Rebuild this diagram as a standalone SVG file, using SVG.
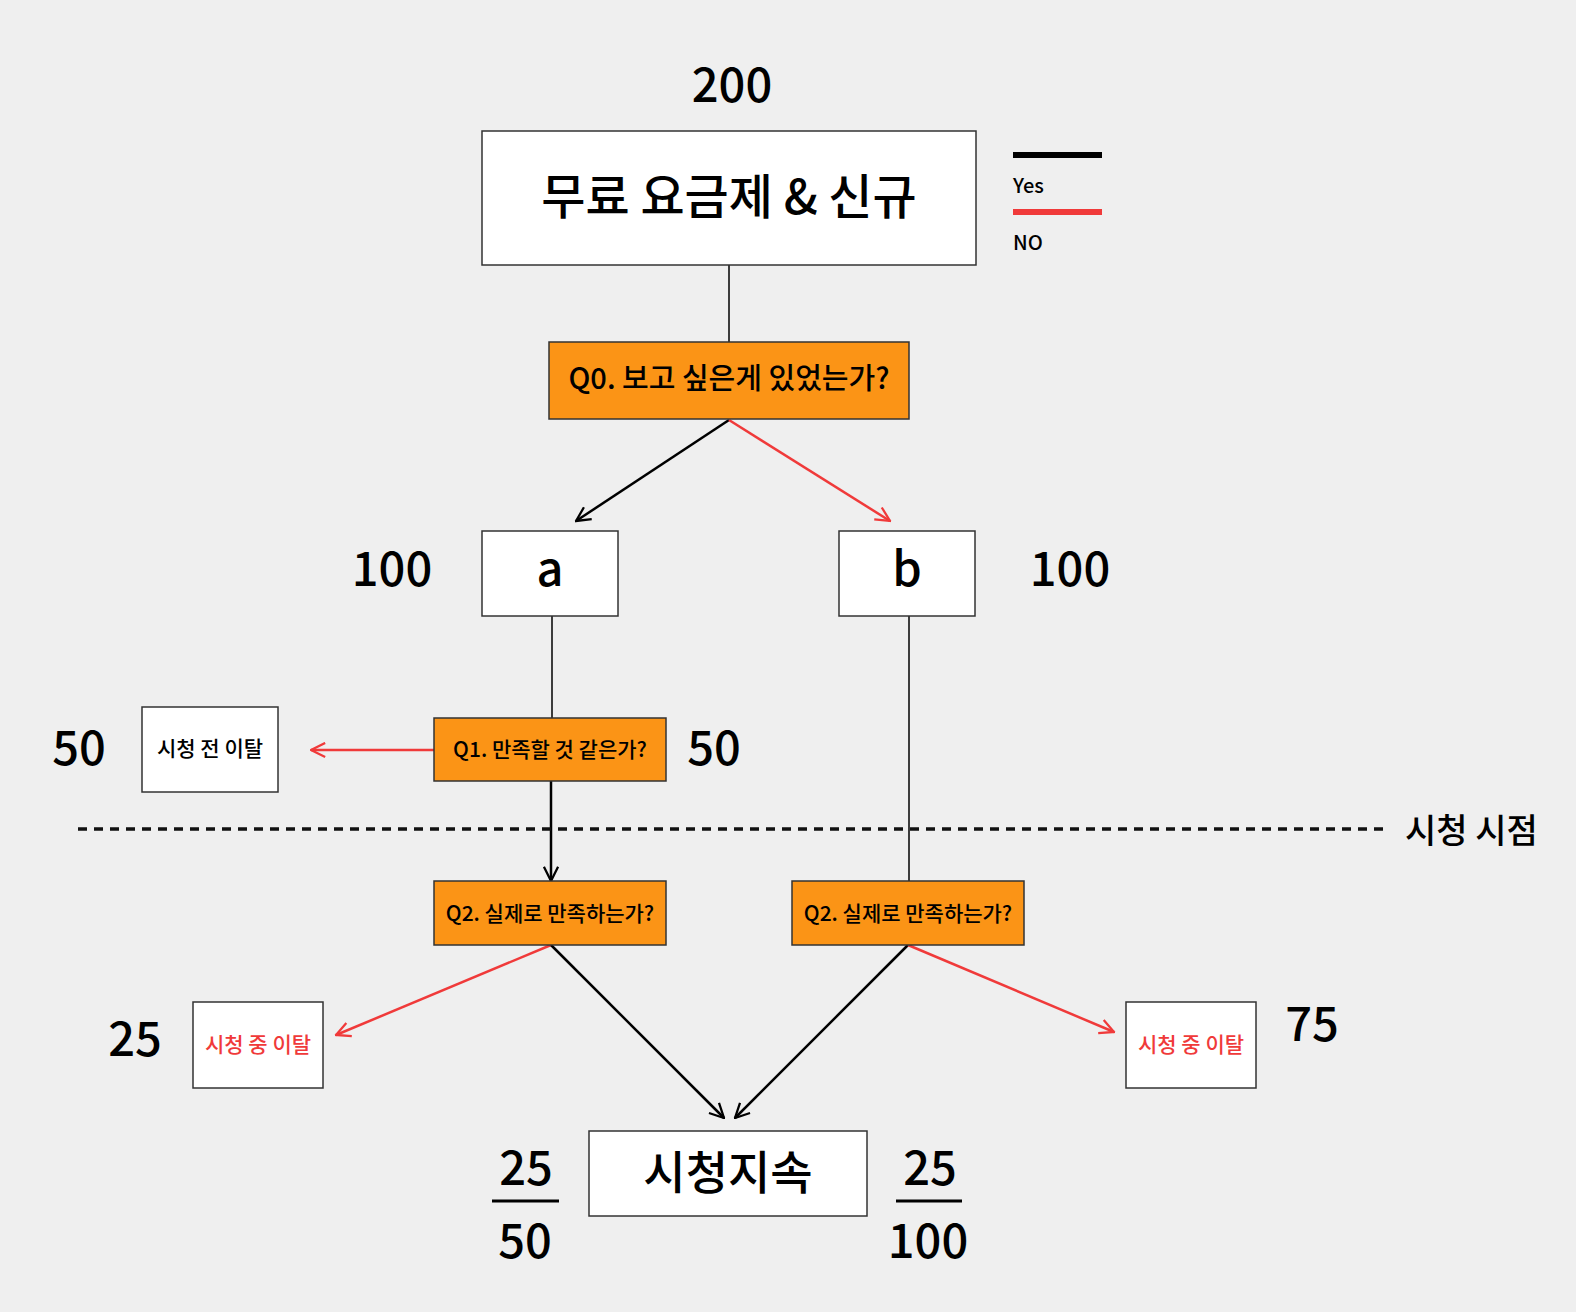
<svg xmlns="http://www.w3.org/2000/svg" width="1576" height="1312" viewBox="0 0 1576 1312">
<defs>
<style>
text{font-family:"Noto Sans CJK KR","Noto Sans",sans-serif;fill:#000;font-weight:500;}
.box{fill:#fff;stroke:#333;stroke-width:1.5;}
.q{fill:#FB9416;stroke:#333;stroke-width:1.5;}
.num{font-size:47px;text-anchor:middle;}
.mid{text-anchor:middle;}
.blk{stroke:#000;stroke-width:2.5;fill:none;}
.red{stroke:#F03A3A;stroke-width:2.5;fill:none;}
.thin{stroke:#000;stroke-width:1.5;fill:none;}
</style>
<marker id="ab" viewBox="0 0 12 12" refX="11" refY="6" markerWidth="17" markerHeight="17" markerUnits="userSpaceOnUse" orient="auto"><path d="M1,1 L11,6 L1,11" fill="none" stroke="#000" stroke-width="1.6"/></marker>
<marker id="ar" viewBox="0 0 12 12" refX="11" refY="6" markerWidth="17" markerHeight="17" markerUnits="userSpaceOnUse" orient="auto"><path d="M1,1 L11,6 L1,11" fill="none" stroke="#F03A3A" stroke-width="1.6"/></marker>
</defs>
<rect width="1576" height="1312" fill="#efefef"/>

<g id="connectors">
<line class="thin" x1="729" y1="265" x2="729" y2="342"/>
<line class="blk" x1="729" y1="420" x2="576" y2="521" marker-end="url(#ab)"/>
<line class="red" x1="729" y1="420" x2="890" y2="521" marker-end="url(#ar)"/>
<line class="thin" x1="552" y1="616" x2="552" y2="718"/>
<line class="thin" x1="909" y1="616" x2="909" y2="881"/>
<line class="red" x1="434" y1="750" x2="311" y2="750" marker-end="url(#ar)"/>
<line class="blk" x1="551" y1="781" x2="551" y2="881" marker-end="url(#ab)"/>
<line class="red" x1="551" y1="945" x2="336" y2="1035" marker-end="url(#ar)"/>
<line class="blk" x1="551" y1="945" x2="724" y2="1118" marker-end="url(#ab)"/>
<line class="blk" x1="908" y1="945" x2="735" y2="1118" marker-end="url(#ab)"/>
<line class="red" x1="908" y1="945" x2="1114" y2="1032" marker-end="url(#ar)"/>
</g>

<g id="timeline">
<line x1="78" y1="829" x2="1389" y2="829" stroke="#111" stroke-width="3.5" stroke-dasharray="9 7"/>
<text x="1405" y="843" font-size="34">시청 시점</text>
</g>

<g id="legend">
<line x1="1013" y1="155" x2="1102" y2="155" stroke="#000" stroke-width="6"/>
<text x="1013" y="193" font-size="20">Yes</text>
<line x1="1013" y1="212" x2="1102" y2="212" stroke="#F03A3A" stroke-width="6"/>
<text x="1013" y="250" font-size="20">NO</text>
</g>

<g id="top">
<text class="num" x="732" y="102">200</text>
<rect class="box" x="482" y="131" width="494" height="134"/>
<text class="mid" x="729" y="214" font-size="48">무료 요금제 &amp; 신규</text>
</g>

<g id="q0">
<rect class="q" x="549" y="342" width="360" height="77"/>
<text class="mid" x="729" y="389" font-size="29">Q0. 보고 싶은게 있었는가?</text>
</g>

<g id="node-a">
<rect class="box" x="482" y="531" width="136" height="85"/>
<text class="num" x="550" y="586">a</text>
<text class="num" x="392" y="586">100</text>
</g>

<g id="node-b">
<rect class="box" x="839" y="531" width="136" height="85"/>
<text class="num" x="907" y="586">b</text>
<text class="num" x="1070" y="586">100</text>
</g>

<g id="q1">
<rect class="q" x="434" y="718" width="232" height="63"/>
<text class="mid" x="550" y="757" font-size="21">Q1. 만족할 것 같은가?</text>
<text class="num" x="714" y="765">50</text>
</g>

<g id="drop-before">
<rect class="box" x="142" y="707" width="136" height="85"/>
<text class="mid" x="210" y="756" font-size="21">시청 전 이탈</text>
<text class="num" x="79" y="765">50</text>
</g>

<g id="q2-left">
<rect class="q" x="434" y="881" width="232" height="64"/>
<text class="mid" x="550" y="921" font-size="21">Q2. 실제로 만족하는가?</text>
</g>

<g id="q2-right">
<rect class="q" x="792" y="881" width="232" height="64"/>
<text class="mid" x="908" y="921" font-size="21">Q2. 실제로 만족하는가?</text>
</g>

<g id="drop-during-left">
<rect class="box" x="193" y="1002" width="130" height="86"/>
<text class="mid" x="258" y="1052" font-size="21" style="fill:#F03A3A">시청 중 이탈</text>
<text class="num" x="135" y="1056">25</text>
</g>

<g id="drop-during-right">
<rect class="box" x="1126" y="1002" width="130" height="86"/>
<text class="mid" x="1191" y="1052" font-size="21" style="fill:#F03A3A">시청 중 이탈</text>
<text class="num" x="1312" y="1041">75</text>
</g>

<g id="continue">
<rect class="box" x="589" y="1131" width="278" height="85"/>
<text class="mid" x="728" y="1189" font-size="46">시청지속</text>
</g>

<g id="fraction-left">
<text class="num" x="526" y="1185">25</text>
<line x1="492" y1="1201" x2="559" y2="1201" stroke="#000" stroke-width="3"/>
<text class="num" x="525" y="1258">50</text>
</g>

<g id="fraction-right">
<text class="num" x="930" y="1185">25</text>
<line x1="896" y1="1201" x2="962" y2="1201" stroke="#000" stroke-width="3"/>
<text class="num" x="928" y="1258">100</text>
</g>
</svg>
